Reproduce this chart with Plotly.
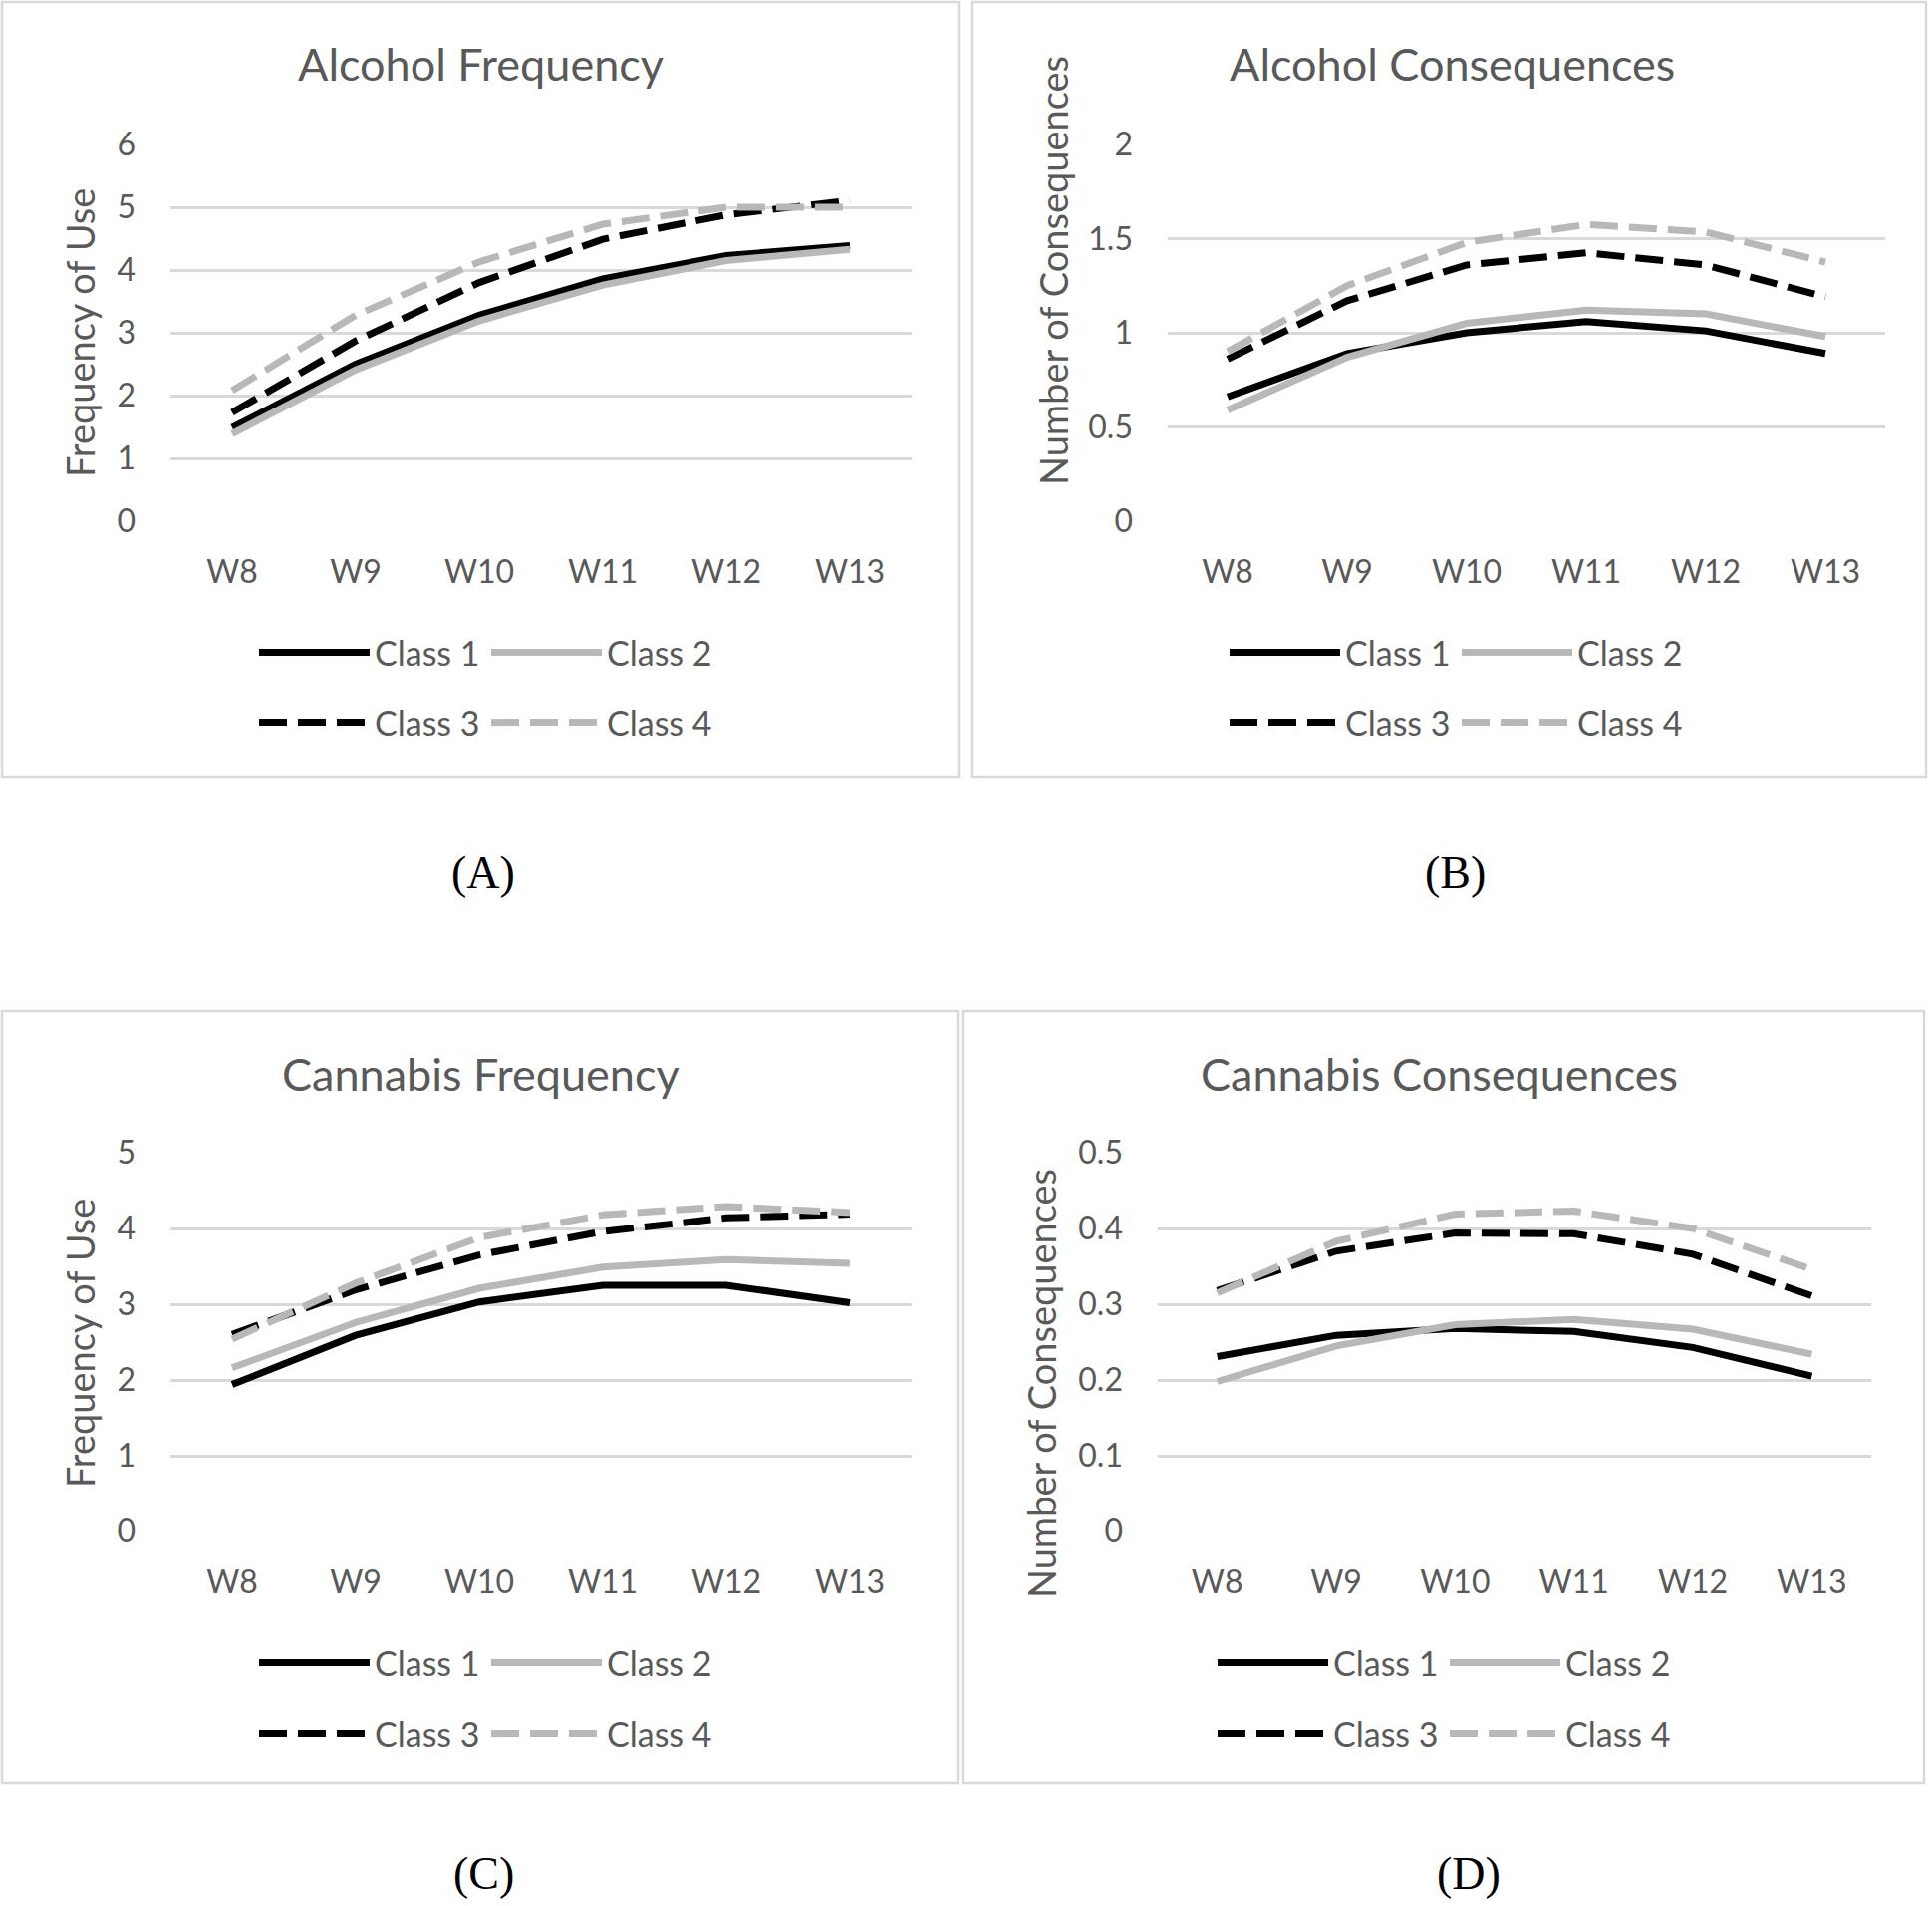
import plotly.graph_objects as go

# ---------------- data ----------------
weeks = ["W8", "W9", "W10", "W11", "W12", "W13"]
class_names = ["Class 1", "Class 2", "Class 3", "Class 4"]

alc_freq_c1 = [1.49, 2.50, 3.28, 3.86, 4.23, 4.39]
alc_freq_c2 = [1.39, 2.41, 3.19, 3.76, 4.15, 4.33]
alc_freq_c3 = [1.73, 2.87, 3.80, 4.49, 4.88, 5.11]
alc_freq_c4 = [2.08, 3.28, 4.13, 4.73, 5.00, 5.00]

alc_cons_c1 = [0.66, 0.89, 1.00, 1.06, 1.01, 0.89]
alc_cons_c2 = [0.59, 0.87, 1.05, 1.12, 1.10, 0.98]
alc_cons_c3 = [0.86, 1.17, 1.36, 1.425, 1.36, 1.19]
alc_cons_c4 = [0.90, 1.25, 1.48, 1.575, 1.535, 1.375]

can_freq_c1 = [1.94, 2.59, 3.03, 3.25, 3.25, 3.02]
can_freq_c2 = [2.16, 2.76, 3.21, 3.49, 3.59, 3.54]
can_freq_c3 = [2.60, 3.19, 3.65, 3.96, 4.14, 4.19]
can_freq_c4 = [2.54, 3.28, 3.88, 4.18, 4.29, 4.21]

can_cons_c1 = [0.231, 0.259, 0.268, 0.264, 0.243, 0.205]
can_cons_c2 = [0.198, 0.245, 0.273, 0.280, 0.267, 0.234]
can_cons_c3 = [0.318, 0.370, 0.394, 0.393, 0.366, 0.311]
can_cons_c4 = [0.315, 0.383, 0.419, 0.423, 0.400, 0.346]

panel_titles = ["Alcohol Frequency", "Alcohol Consequences",
                "Cannabis Frequency", "Cannabis Consequences"]
y_titles = ["Frequency of Use", "Number of Consequences",
            "Frequency of Use", "Number of Consequences"]
panel_letters = ["(A)", "(B)", "(C)", "(D)"]
y_ranges = [[0, 6], [0, 2], [0, 5], [0, 0.5]]
y_dticks = [1, 0.5, 1, 0.1]

panel_series = [
    [alc_freq_c1, alc_freq_c2, alc_freq_c3, alc_freq_c4],
    [alc_cons_c1, alc_cons_c2, alc_cons_c3, alc_cons_c4],
    [can_freq_c1, can_freq_c2, can_freq_c3, can_freq_c4],
    [can_cons_c1, can_cons_c2, can_cons_c3, can_cons_c4],
]

# ---------------- layout geometry (pixels) ----------------
W, H = 1939, 1913
# plot areas: (left, right, top, bottom)
plot_boxes = [(171, 915, 145, 523), (1172, 1892, 145, 523),
              (171, 915, 1157, 1537), (1162, 1878, 1157, 1537)]
# chart area borders
frames = [(2, 962, 2, 780), (976, 1933, 2, 780),
          (2, 961, 1015, 1790), (966, 1931, 1015, 1790)]
title_pos = [(482, 64), (1457, 64), (482, 1078), (1444, 1078)]
ytitle_pos = [(80, 334), (1057, 272), (80, 1348), (1045, 1389)]
letter_pos = [(485, 875), (1460, 875), (485, 1880), (1474, 1880)]
legend_x = [255, 1229, 255, 1217]
legend_rows = [(655, 726), (655, 726), (1669, 1740), (1669, 1740)]

line_colors = ["#000000", "#b8b8b8", "#000000", "#b8b8b8"]
line_dashes = ["solid", "solid", "28px,11px", "28px,11px"]
TEXT = "#595959"
GRID = "#d9d9d9"
FONT = "Lato, Carlito, Calibri, sans-serif"


def px_x(v):
    return v / W


def px_y(v):
    return 1 - v / H


fig = go.Figure()
shapes = []
annotations = []
layout_axes = {}
legends = {}

for p in range(4):
    l, r, t, b = plot_boxes[p]
    xa = "xaxis" if p == 0 else f"xaxis{p + 1}"
    ya = "yaxis" if p == 0 else f"yaxis{p + 1}"
    xref = "x" if p == 0 else f"x{p + 1}"
    yref = "y" if p == 0 else f"y{p + 1}"
    layout_axes[xa] = dict(
        domain=[px_x(l), px_x(r)], anchor=yref, type="category",
        range=[-0.5, 5.5], showgrid=False, zeroline=False, showline=False,
        ticks="", ticklabelstandoff=29, automargin=False,
        tickfont=dict(family=FONT, size=32, color=TEXT),
    )
    layout_axes[ya] = dict(
        domain=[px_y(b), px_y(t)], anchor=xref, range=y_ranges[p],
        dtick=y_dticks[p], tick0=0, showgrid=True, gridcolor=GRID,
        gridwidth=3, zeroline=False, showline=False, ticks="",
        ticklabelstandoff=34, automargin=False,
        tickfont=dict(family=FONT, size=32, color=TEXT),
    )
    for k in range(2):
        lname = f"legend{2 * p + k + 1}" if (2 * p + k) > 0 else "legend"
        legends[lname] = dict(
            x=px_x(legend_x[p]), y=px_y(legend_rows[p][k]),
            xanchor="left", yanchor="middle", orientation="h",
            itemwidth=111, entrywidth=107, entrywidthmode="pixels",
            bgcolor="rgba(0,0,0,0)", borderwidth=0,
            font=dict(family=FONT, size=34, color=TEXT),
            traceorder="normal",
        )
    for c in range(4):
        row = c // 2
        lname = f"legend{2 * p + row + 1}" if (2 * p + row) > 0 else "legend"
        fig.add_trace(go.Scatter(
            x=weeks, y=panel_series[p][c], mode="lines",
            name=class_names[c], xaxis=xref, yaxis=yref,
            line=dict(color=line_colors[c], width=7, dash=line_dashes[c]),
            legend=lname, showlegend=True, hoverinfo="skip",
        ))
    fl, fr, ft, fb = frames[p]
    shapes.append(dict(type="rect", xref="paper", yref="paper",
                       x0=px_x(fl), x1=px_x(fr), y0=px_y(fb), y1=px_y(ft),
                       line=dict(color=GRID, width=2.5), layer="below"))
    annotations.append(dict(
        text=panel_titles[p], xref="paper", yref="paper",
        x=px_x(title_pos[p][0]), y=px_y(title_pos[p][1]),
        xanchor="center", yanchor="middle", showarrow=False,
        font=dict(family=FONT, size=45, color=TEXT)))
    annotations.append(dict(
        text=y_titles[p], xref="paper", yref="paper",
        x=px_x(ytitle_pos[p][0]), y=px_y(ytitle_pos[p][1]),
        xanchor="center", yanchor="middle", showarrow=False, textangle=-90,
        font=dict(family=FONT, size=38, color=TEXT)))
    annotations.append(dict(
        text=panel_letters[p], xref="paper", yref="paper",
        x=px_x(letter_pos[p][0]), y=px_y(letter_pos[p][1]),
        xanchor="center", yanchor="middle", showarrow=False,
        font=dict(family="Liberation Serif, Times New Roman, serif",
                  size=46, color="#000000")))

fig.update_layout(
    template="none",
    width=W, height=H, margin=dict(l=0, r=0, t=0, b=0, autoexpand=False),
    paper_bgcolor="white", plot_bgcolor="white",
    shapes=shapes, annotations=annotations, **layout_axes, **legends,
)

fig.write_html(
    "out.html",
    config={"displayModeBar": False},
    post_script=("document.body.style.margin='0';"
                 "document.body.style.padding='0';"
                 "document.documentElement.style.overflow='hidden';"),
)
